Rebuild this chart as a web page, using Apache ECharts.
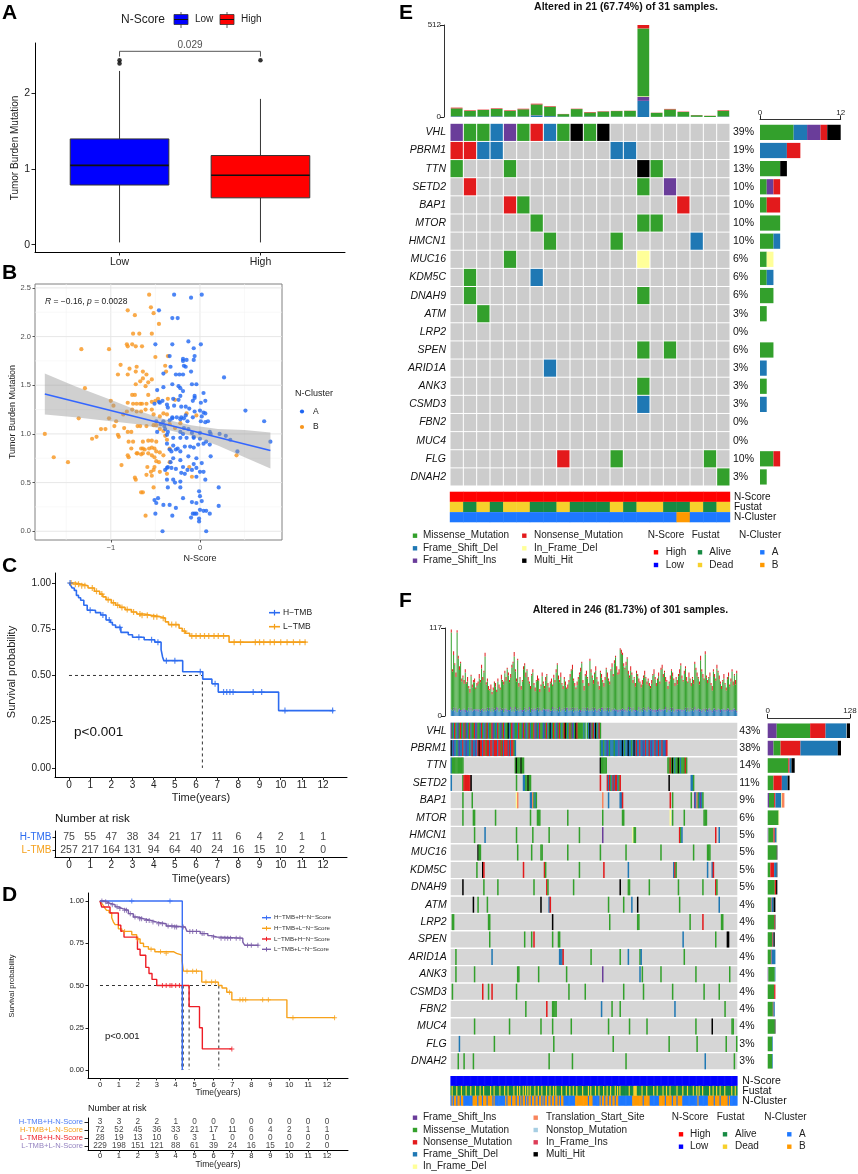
<!DOCTYPE html>
<html><head><meta charset="utf-8"><title>TMB figure</title>
<script src="https://cdn.jsdelivr.net/npm/echarts@6.0.0/dist/echarts.min.js"></script>
<style>html,body{margin:0;padding:0;background:#fff;}#chart{width:858px;height:1174px;}</style>
</head><body><div id="chart"></div>
<script>
// ================= DATA =================
// Panel A
const boxCategories = ['Low', 'High'];
const boxLow = [0.03, 0.79, 1.05, 1.40, 2.30];
const boxHigh = [0.03, 0.62, 0.92, 1.18, 1.93];
const boxOutliers = [[1, 2.44], [1, 2.40], [2, 2.44]];
const boxPLabel = '0.029';
const boxBracket = [[1, 2.49], [1, 2.56], [2, 2.56], [2, 2.49]];
const boxYTicks = [0, 1, 2];

// Panel B
const clusterB = [[-0.57,2.43],[-0.81,2.27],[-0.55,2.30],[-0.52,2.24],[-0.73,2.22],[-0.46,2.13],[-0.75,2.03],[-0.68,2.03],[-0.54,2.03],[-1.33,1.87],[-1.02,1.87],[-0.82,1.92],[-0.81,1.90],[-0.76,1.92],[-0.72,1.90],[-0.65,1.90],[-0.50,1.79],[-0.89,1.71],[-0.79,1.67],[-0.71,1.69],[-0.92,1.61],[-0.81,1.61],[-0.72,1.64],[-0.64,1.64],[-0.60,1.61],[-0.54,1.56],[-0.38,1.64],[-0.36,1.80],[-0.39,1.70],[-0.64,1.57],[-0.58,1.53],[-0.61,1.49],[-0.72,1.51],[-0.67,1.54],[-1.29,1.47],[-0.76,1.40],[-0.73,1.40],[-0.58,1.40],[-1.00,1.34],[-0.97,1.29],[-0.81,1.32],[-0.75,1.31],[-0.71,1.31],[-0.67,1.31],[-0.65,1.31],[-0.60,1.31],[-0.54,1.33],[-0.50,1.34],[-0.47,1.36],[-0.36,1.36],[-0.28,1.35],
[-1.36,1.16],[-1.02,1.16],[-0.86,1.20],[-0.82,1.23],[-0.76,1.25],[-0.71,1.23],[-0.66,1.23],[-0.61,1.25],[-0.54,1.25],[-0.52,1.20],[-0.45,1.18],[-0.41,1.21],[-0.37,1.20],[-0.94,1.13],[-0.96,1.08],[-0.85,1.06],[-1.06,1.05],[-1.11,1.05],[-1.16,0.97],[-1.21,0.95],[-1.74,1.00],[-0.92,0.99],[-0.91,0.97],[-0.81,1.02],[-0.77,1.02],[-0.70,1.08],[-0.67,1.08],[-0.60,1.08],[-0.52,1.09],[-0.49,1.09],[-0.45,1.05],[-0.41,1.03],[-0.34,1.10],[-0.28,1.06],[-0.22,1.11],
[-0.80,0.92],[-0.75,0.92],[-0.64,0.92],[-0.58,0.93],[-0.54,0.93],[-0.49,0.92],[-0.39,0.98],[-0.37,0.94],[-0.64,0.85],[-0.62,0.84],[-0.66,0.85],[-0.57,0.85],[-0.54,0.86],[-0.51,0.85],[-0.49,0.82],[-0.45,0.81],[-0.77,0.85],[-0.71,0.80],[-0.80,0.76],[-0.81,0.78],[-0.70,0.80],[-0.66,0.79],[-0.64,0.80],[-0.58,0.80],[-0.54,0.78],[-0.51,0.76],[-0.46,0.71],[-0.41,0.78],[-0.34,0.85],[-0.88,0.68],[-0.59,0.66],[-0.51,0.66],[-0.49,0.72],[-0.55,0.61],[-0.52,0.63],[-0.45,0.61],[-0.37,0.59],[-0.60,0.58],[-0.54,0.57],[-0.34,0.71],[-1.64,0.76],[-1.48,0.71],[-0.73,0.55],[-0.72,0.53],[-0.66,0.40],[-0.64,0.40],[-0.52,0.45],[-0.61,0.16],[-0.09,0.56],[-0.12,0.66],[0.41,0.78],[-0.15,1.21],[-0.04,1.19]];
const clusterA = [[-0.29,2.43],[-0.10,2.40],[0.02,2.43],[-0.46,2.27],[-0.31,2.19],[-0.25,2.19],[-0.50,1.92],[-0.31,1.92],[-0.13,1.95],[-0.07,1.88],[0.01,1.92],[-0.34,1.80],[-0.33,1.69],[-0.19,1.77],[-0.19,1.75],[-0.15,1.76],[-0.18,1.70],[-0.07,1.76],[-0.06,1.80],[-0.16,1.69],[-0.10,1.64],[-0.41,1.62],[-0.27,1.61],[-0.23,1.61],[-0.19,1.61],[-0.31,1.51],[-0.24,1.49],[-0.09,1.51],[-0.04,1.51],[-0.22,1.47],[-0.19,1.44],[-0.41,1.48],[-0.48,1.45],[-0.06,1.39],[-0.06,1.37],[0.04,1.42],[0.06,1.34],[0.01,1.32],[-0.08,1.34],[-0.22,1.39],[-0.24,1.35],[-0.30,1.36],[-0.42,1.34],[-0.46,1.33],[-0.45,1.32],[-0.51,1.31],[-0.37,1.30],[-0.36,1.27],[-0.29,1.29],[-0.21,1.28],[-0.16,1.28],[-0.12,1.26],[-0.06,1.23],[0,1.24],[0.04,1.22],[0.06,1.21],[0.02,1.18],[-0.16,1.19],[-0.21,1.17],[-0.26,1.17],[-0.31,1.16],[-0.34,1.14],[-0.31,1.17],[-0.22,1.15],[-0.18,1.16],[-0.14,1.13],[-0.08,1.17],[0.01,1.13],[0.06,1.12],[0.09,1.13],[-0.41,1.13],[-0.49,1.13],[-0.44,1.10],[-0.40,1.08],[-0.39,1.05],[-0.48,1.02],[-0.18,1.06],[-0.13,1.05],[-0.09,1.01],[-0.07,0.97],[0,1.01],[0.11,1.02],[0.12,1.00],[0.22,1.00],[0.29,0.98],[0.34,0.94],[-0.36,1.02],[-0.37,0.99],[-0.22,1.02],[-0.19,1.00],[-0.30,0.96],[-0.22,0.96],[-0.15,0.96],[-0.07,0.96],[0,0.95],[0.07,0.92],[0.11,0.89],[-0.37,0.90],[-0.30,0.88],[-0.25,0.85],[-0.34,0.84],[-0.32,0.82],[-0.27,0.84],[-0.22,0.82],[-0.17,0.87],[-0.11,0.87],[-0.07,0.86],[-0.02,0.89],[0.04,0.90],[0.12,0.77],[-0.22,0.73],[-0.30,0.75],[-0.33,0.71],[-0.36,0.66],[-0.37,0.65],[-0.32,0.65],[-0.27,0.64],[-0.19,0.66],[-0.14,0.63],[-0.09,0.63],[-0.04,0.65],[0,0.61],[0.04,0.61],[-0.13,0.77],[-0.04,0.75],[0.02,0.70],[-0.07,0.69],[-0.21,0.60],[-0.17,0.59],[-0.04,0.56],[0.06,0.53],[-0.30,0.53],[-0.28,0.50],[-0.22,0.51],[-0.39,0.63],[-0.37,0.53],[-0.36,0.45],[-0.22,0.45],[-0.01,0.41],[0,0.36],[0.21,0.45],[-0.51,0.32],[-0.49,0.29],[-0.47,0.34],[-0.34,0.27],[-0.19,0.34],[-0.09,0.30],[-0.04,0.29],[0.02,0.31],[-0.41,0.27],[0.21,0.26],[0.11,0.18],[-0.08,0.18],[-0.06,0.18],[-0.04,0.18],[0,0.22],[0.04,0.21],[0.07,0.21],[-0.10,0.14],[-0.01,0.13],[-0.01,0.10],[-0.50,0.18],[-0.31,0.16],[-0.27,0.24],[0.27,1.58],[0.51,1.24],[0.72,1.13],[0.79,0.92],[0.42,0.82],[-0.42,0.0],[0.07,0.0]];
const fitLine = [[-1.74, 1.41], [0.79, 0.83]];
const fitBand = [[-1.74,1.20,1.62],[-1.4,1.17,1.49],[-1.0,1.13,1.35],[-0.7,1.10,1.24],[-0.4,1.05,1.15],[-0.1,0.98,1.09],[0.2,0.88,1.05],[0.5,0.76,1.04],[0.79,0.645,1.015]];
const bXTicks = [-1, 0];
const bYTicks = [0, 0.5, 1, 1.5, 2, 2.5];
const bGridMajorX = [-1, 0], bGridMinorX = [-1.5, -0.5, 0.5];
const bGridMajorY = [0, 0.5, 1, 1.5, 2, 2.5], bGridMinorY = [0.25, 0.75, 1.25, 1.75, 2.25];

// Panel C
const kmTimeTicks = [0,1,2,3,4,5,6,7,8,9,10,11,12];
const survTicks = [0, 0.25, 0.5, 0.75, 1];
const kmC_H = [[0,1],[0.08,0.987],[0.15,0.973],[0.25,0.96],[0.35,0.933],[0.45,0.92],[0.55,0.907],[0.7,0.88],[0.86,0.853],[1.25,0.84],[1.5,0.827],[1.75,0.80],[1.95,0.787],[2.05,0.773],[2.2,0.76],[2.45,0.733],[2.8,0.72],[3.0,0.707],[3.55,0.693],[4.05,0.68],[4.35,0.64],[4.42,0.60],[4.48,0.58],[5.37,0.52],[6.32,0.48],[6.75,0.455],[7.05,0.41],[9.9,0.31],[12.5,0.31]];
const kmC_Hcens = [[0.05,1.0],[1.0,0.853],[1.6,0.827],[1.9,0.80],[2.4,0.76],[3.3,0.707],[3.9,0.693],[4.2,0.68],[4.6,0.58],[5.0,0.58],[6.2,0.52],[6.9,0.455],[7.3,0.41],[7.45,0.41],[7.6,0.41],[7.75,0.41],[8.7,0.41],[9.1,0.41],[10.2,0.31],[12.45,0.31]];
const kmC_L = [[0,1],[0.3,0.993],[0.6,0.985],[0.9,0.973],[1.2,0.955],[1.45,0.94],[1.6,0.925],[1.75,0.91],[2.0,0.893],[2.2,0.88],[2.4,0.868],[2.65,0.856],[2.95,0.843],[3.2,0.832],[3.55,0.825],[3.9,0.818],[4.3,0.81],[4.55,0.79],[4.7,0.775],[5.2,0.755],[5.35,0.74],[5.5,0.728],[5.7,0.714],[7.56,0.68],[11.2,0.68]];
const kmC_Lcens = [[0.1,1.0],[0.3,0.993],[0.45,0.993],[0.6,0.985],[0.75,0.985],[1.1,0.973],[1.3,0.955],[1.55,0.94],[1.85,0.91],[2.1,0.893],[2.3,0.88],[2.5,0.868],[2.75,0.856],[3.05,0.843],[3.35,0.832],[3.45,0.825],[3.7,0.825],[4.0,0.818],[4.15,0.818],[4.45,0.81],[4.85,0.775],[5.05,0.775],[5.45,0.74],[5.8,0.714],[6.0,0.714],[6.2,0.714],[6.4,0.714],[6.6,0.714],[6.85,0.714],[7.05,0.714],[7.3,0.714],[7.8,0.68],[8.1,0.68],[8.8,0.68],[9.0,0.68],[9.2,0.68],[9.5,0.68],[9.7,0.68],[10.0,0.68],[10.3,0.68],[10.6,0.68],[10.9,0.68],[11.15,0.68]];
const medianC = [6.3];
const riskGroupsC = ['H-TMB', 'L-TMB'];
const riskC_H = [75,55,47,38,34,21,17,11,6,4,2,1,1];
const riskC_L = [257,217,164,131,94,64,40,24,16,15,10,2,0];

// Panel D
const kmD_HH = [[0,1],[4.35,0]];
const kmD_HHcens = [[1.68,1],[3.7,1]];
const kmD_HL = [[0,1],[0.09,0.986],[0.18,0.972],[0.26,0.958],[0.35,0.944],[0.48,0.93],[0.62,0.90],[0.71,0.875],[0.8,0.86],[0.97,0.835],[1.15,0.82],[1.68,0.80],[1.94,0.775],[2.12,0.75],[2.3,0.73],[2.56,0.715],[2.9,0.70],[3.88,0.69],[4.05,0.68],[4.34,0.645],[4.41,0.585],[5.38,0.52],[6.26,0.50],[6.45,0.485],[6.7,0.46],[6.97,0.415],[9.88,0.31],[12.43,0.31]];
const kmD_HLcens = [[1.3,0.82],[2.0,0.775],[2.7,0.715],[3.2,0.70],[3.5,0.69],[4.6,0.585],[4.9,0.585],[5.1,0.585],[5.6,0.52],[5.9,0.52],[6.1,0.52],[6.85,0.46],[7.4,0.415],[7.55,0.415],[7.7,0.415],[8.6,0.415],[8.9,0.415],[10.2,0.31],[12.4,0.31]];
const kmD_LH = [[0,1],[0.09,0.964],[0.53,0.929],[0.97,0.857],[1.1,0.821],[1.27,0.786],[1.98,0.714],[2.12,0.679],[2.42,0.607],[2.59,0.571],[2.75,0.536],[3.0,0.5],[4.71,0.375],[5.26,0.25],[5.41,0.125],[6.97,0.125]];
const kmD_LHcens = [[3.3,0.5],[3.5,0.5],[3.7,0.5],[3.8,0.5],[4.0,0.5],[4.2,0.5],[6.97,0.125]];
const kmD_LL = [[0,1],[0.2,0.995],[0.35,0.985],[0.55,0.978],[0.8,0.965],[0.97,0.955],[1.2,0.945],[1.5,0.925],[1.76,0.905],[2.0,0.895],[2.3,0.885],[2.7,0.875],[3.0,0.865],[3.5,0.852],[3.9,0.846],[4.5,0.835],[4.6,0.82],[5.3,0.807],[5.7,0.795],[5.9,0.787],[6.17,0.78],[7.55,0.757],[7.65,0.738],[8.38,0.738]];
const kmD_LLcens = [[0.1,1],[0.3,0.995],[0.45,0.985],[0.65,0.978],[0.9,0.965],[1.05,0.955],[1.3,0.945],[1.4,0.945],[1.6,0.925],[1.85,0.905],[2.1,0.895],[2.2,0.895],[2.45,0.885],[2.6,0.885],[2.8,0.875],[3.1,0.865],[3.3,0.865],[3.6,0.852],[3.8,0.852],[3.95,0.846],[4.05,0.846],[4.4,0.846],[4.75,0.82],[4.9,0.82],[5.1,0.82],[5.4,0.807],[5.5,0.807],[6.0,0.787],[6.4,0.78],[6.6,0.78],[6.75,0.78],[6.9,0.78],[7.2,0.78],[7.4,0.78],[7.8,0.738],[8.0,0.738],[8.35,0.738]];
const medianD = [4.33, 4.40, 4.71, 6.28];
const riskGroupsD = ['H-TMB+H-N-Score', 'H-TMB+L-N-Score', 'L-TMB+H-N-Score', 'L-TMB+L-N-Score'];
const riskD_HH = [3,3,2,2,1,0,0,0,0,0,0,0,0];
const riskD_HL = [72,52,45,36,33,21,17,11,6,4,2,1,1];
const riskD_LH = [28,19,13,10,6,3,1,0,0,0,0,0,0];
const riskD_LL = [229,198,151,121,88,61,39,24,16,15,10,2,0];

// Panel E (oncoplot, 21 altered samples)
const eTitle = 'Altered in 21 (67.74%) of 31 samples.';
const eGenes = ['VHL','PBRM1','TTN','SETD2','BAP1','MTOR','HMCN1','MUC16','KDM5C','DNAH9','ATM','LRP2','SPEN','ARID1A','ANK3','CSMD3','FBN2','MUC4','FLG','DNAH2'];
const ePct = ['39%','19%','13%','10%','10%','10%','10%','6%','6%','6%','3%','0%','6%','3%','3%','3%','0%','0%','10%','3%'];
const eMatrix = [
 'IMMDIMNDMHMH.........',
 'NNDD........DD.......',
 'M...M.........HM.....',
 '.N............M.I....',
 '....NM...........N...',
 '......M.......MM.....',
 '.......M....M.....D..',
 '....M.........d......',
 '.M....D..............',
 '.M............M......',
 '..M..................',
 '.....................',
 '..............M.M....',
 '.......D.............',
 '..............M......',
 '..............D......',
 '.....................',
 '.....................',
 '........N...M......M.',
 '....................M'];
const eTmbFSD   = [3,2,3,3,1,2,8,4,2,2,2,1,2,1,90,1,2,2,1,0,2];
const eTmbFSI   = [1,1,0,1,1,1,2,1,0,0,1,0,0,1,22,0,1,0,0,0,1];
const eTmbIFD   = [0,0,0,0,0,0,0,0,0,0,0,0,0,0,3,0,0,0,0,0,0];
const eTmbMis   = [44,31,36,41,32,40,60,52,14,42,22,29,31,32,378,22,39,26,9,6,31];
const eTmbNon   = [4,3,2,3,3,3,4,3,1,2,3,2,1,1,19,1,3,2,1,1,3];
const eTopMax = 512, eRightMax = 12;
const eNScore = 'HHHHHHHHHHHHHHHHHHHHH';
const eFustat = 'dadaddaadaaadaddaadad';
const eCluster = 'AAAAAAAAAAAAAAAAABAAA';

// Panel F (oncoplot, 246 altered samples)
const fTitle = 'Altered in 246 (81.73%) of 301 samples.';
const fGenes = eGenes;
const fPct = ['43%','38%','14%','11%','9%','6%','5%','5%','5%','5%','4%','4%','4%','4%','4%','4%','4%','4%','3%','3%'];
const fSegVHL = [[0, ['IMDNMDIMNM','DNMIDMNDMM','NDIMMDNMDI','MNDMMNIDMD','NMDIMNDMMH','DMNIDMMDNM','MDNMIDMNDM','MNDIMDNMMD','IMNDMHDMNM','DIMNMDMNHM','DMNMIDMHNM','MMMMDMSMDH','IMNDHMDNM'].join('')]];
const fSegPBRM1 = [[0, ['HDIDDMDIDD','NDDIDDMDND','DIDNHNNDNN','MNNDNNDNNN','DNNMNDNNND','NDNNMD'].join('')], [128, ['MDDMDDIDMD','DDMDDDIDDH','DMDDHDDMDH','DNDDNDDIDN','DDNDIDDNDD','NDDNDDIN'].join('')]];
const fSegOther = [
 [[0,'DMMMMMMMMMM'],[55,'MHMMMHMM'],[128,'HMMMMM'],[186,'MMNMHMDMMHMDMMMNM']],
 [[0,'D'],[10,'MNNNNNNH'],[56,'M'],[62,'DDMMHMM'],[128,'N'],[134,'NDNMDNDNNDMN'],[187,'H'],[206,'DDM']],
 [[10,'M'],[18,'M'],[56,'dT'],[68,'DDTMDM'],[130,'T'],[135,'D'],[145,'DDN'],[188,'N'],[190,'M'],[206,'M'],[209,'IDTMDIDM']],
 [[10,'M'],[19,'MM'],[38,'M'],[68,'M'],[74,'MMM'],[100,'M'],[130,'M'],[147,'MM'],[188,'d'],[190,'M'],[200,'M'],[217,'MMM']],
 [[20,'M'],[29,'D'],[56,'M'],[70,'M'],[84,'M'],[110,'M'],[130,'I'],[156,'dMM'],[196,'NMD'],[227,'N'],[230,'D']],
 [[23,'HMM'],[57,'M'],[69,'M'],[77,'MM'],[100,'M'],[128,'M'],[150,'M'],[180,'M'],[208,'M'],[220,'MMM']],
 [[22,'M'],[27,'HN'],[62,'N'],[80,'NM'],[110,'M'],[131,'N'],[152,'D'],[191,'DNM'],[220,'D'],[224,'DN']],
 [[10,'H'],[28,'M'],[40,'M'],[71,'M'],[82,'NM'],[105,'M'],[145,'H'],[152,'MM'],[170,'M'],[195,'M'],[216,'M'],[227,'NM']],
 [[19,'H'],[23,'M'],[31,'M'],[77,'H'],[84,'DN'],[135,'M'],[148,'M'],[155,'D'],[160,'H'],[196,'M'],[230,'D']],
 [[1,'MM'],[32,'MM'],[87,'H'],[136,'M'],[160,'MM'],[205,'M'],[216,'N'],[232,'MM']],
 [[33,'M'],[63,'M'],[69,'M'],[71,'N'],[87,'M'],[92,'MM'],[199,'D'],[227,'M'],[237,'HH']],
 [[4,'M'],[35,'D'],[93,'DDDN'],[120,'M'],[145,'M'],[152,'D'],[162,'MD'],[200,'M']],
 [[4,'M'],[20,'M'],[57,'MM'],[75,'M'],[99,'M'],[130,'I'],[162,'D'],[164,'M'],[180,'M'],[210,'M'],[239,'M']],
 [[1,'M'],[27,'N'],[32,'M'],[35,'N'],[56,'M'],[101,'M'],[115,'M'],[148,'M'],[165,'M'],[190,'M'],[217,'M'],[230,'M']],
 [[64,'M'],[82,'N'],[87,'MMMM'],[129,'D'],[138,'M'],[145,'M'],[192,'D'],[235,'M']],
 [[20,'M'],[50,'M'],[77,'M'],[87,'M'],[103,'M'],[135,'M'],[153,'M'],[168,'M'],[210,'M'],[224,'H'],[241,'MM']],
 [[7,'D'],[37,'M'],[88,'M'],[139,'M'],[187,'M'],[211,'M'],[236,'M'],[245,'M']],
 [[6,'M'],[11,'M'],[19,'M'],[84,'M'],[104,'M'],[150,'M'],[218,'D'],[243,'M']]
];
const fTmbTotal = [115,62,86,70,58,114,80,66,72,50,54,48,62,45,52,40,36,55,42,48,50,38,44,46,56,48,68,52,60,84,45,50,40,36,42,32,38,46,44,35,50,42,38,55,48,46,60,52,64,58,48,56,68,72,85,62,50,76,44,52,40,48,66,70,58,62,52,46,40,56,62,44,38,48,54,50,36,42,58,46,40,52,56,44,38,46,50,42,55,48,62,70,54,48,58,44,40,52,46,38,42,48,56,62,68,50,44,38,46,52,58,64,72,48,40,56,60,52,44,76,62,54,48,58,66,52,46,40,60,56,48,44,52,64,58,50,46,62,70,56,74,80,66,58,62,90,88,84,70,64,72,78,60,54,66,58,48,52,44,60,56,50,46,42,48,54,60,52,46,50,44,40,48,56,62,52,44,50,58,46,64,68,56,60,52,48,40,46,54,62,58,50,44,52,48,56,62,70,54,48,60,66,52,46,58,50,44,52,48,72,64,58,52,46,80,62,56,50,86,54,48,52,58,44,40,62,56,50,68,60,54,46,40,48,56,44,38,52,58,42,50,62,46,56,48,60];
const fTmbFSD = ['8796857968','7958697867','9786958768','6978596879','8697857968','7968597869','8579687958','6978958769','8796857969','7859687968','9687958796','8579697868','7968958769','8697859687','9785968796','8697958768','7958697869','8796859687','6978958796','8579687968','7968597869','8796958768','6978597869','8597968796','869785'].join('');
const fTmbNon = ['4352634524','3542635243','5243635425','3452634253','4536243524','3542634253','5243625342','4352634253','3524635243','4253624352','5342634253','3524635243','4352634525','3542634253','4253625342','5243634253','3524635243','4352634253','3542624352','5243635342','4352634253','3524635243','4253634352','5342624353','435263'].join('');
const fTmbIns = ['1021302120','2130120312','0213021302','1203120213','3021203120','1302130212','0312021302','2130213021','1203120312','0213021203','2130213021','1302120312','0213021302','3120312021','1203021302','2130213120','0312021203','1302130213','2021302120','3120312021','1203120213','0213021302','2130213021','1302120312','021302'].join('');
const fTopMax = 117, fRightMax = 128;
const fNScore = ['LLLLLLLLLL','LLLLLLLLLL','LLLLLLLLLL','LLLLLLLLLL','LLLLLLLLLL','LLLLLLLLLL','LLLLLLLLLL','LLLLLLLLLL','LLLLLLLLLL','LLLLLLLLLL','LLLLLLLLLL','LLLLLLLLLL','LLLLLLLLLL','LLLLLLLLLL','LLLLLLLLLL','LLLLLLLLLL','LLLLLLLLLL','LLLLLLLLLL','LLLLLLLLLL','LLLLLLLLLL','LLLLLLLLLL','LLLLLLLLLL','LLLLLLLLLL','LLLLLLLLLL','LLLLLL'].join('');
const fFustat = ['adaaadaaad','aaadaaadaa','adaaadaada','aaaadaadaa','aadaaadaad','aaaadaadad','aadadadada','aadaadaada','aadaadaada','daaaadaaad','aadaadaada','aaadaaaada','daaadaadaa','adaadaadaa','adadadaaaa','aaadaaaddd','aaaadaaada','aaaadaadaa','aadaadaada','aaaadaaaad','aaadaaaada','adadaadaaa','aadaadaada','adaaadaaaa','adaada'].join('');
const fCluster = ['ABABBABBAB','BAAAAAAAAB','BBBABBBABB','BABBBBABAA','AAAAAAABAB','BBABBBABBA','BABBABABBA','BBABBABBAB','ABBABBABBA','BBABABBAAA','AAAAAAABBB','BBBBBBBBAB','BBAAAAAABA','BBABBABBAB','BABBAAAAAA','AAAAAABBBB','BBBBBABBBB','BAAAAAAAAB','BBBBABBBBB','ABBBABBBBA','AAAAAAAAAA','AABAAAAAAA','ABBBBBABBB','BABBBBBBAB','AAAAAA'].join('');

// ================= STYLE =================
const FONT = '"Liberation Sans", Arial, Helvetica, sans-serif';
const mutCodes = ['M','N','D','I','d','T','S','i','H'];
const mutColors = ['#33A02C','#E31A1C','#1F78B4','#6A3D9A','#FFFF99','#F8845C','#A6CEE3','#DD3D57','#000000'];
const annKeys = ['H','L','a','d','A','B'];
const annColors = ['#FF0000','#0000FF','#178A43','#F7D02C','#1E78FF','#FF9900'];
const PLUS = 'path://M4,0H6V4H10V6H6V10H4V6H0V4H4Z';
const colC = {H:'#2D6CF0', L:'#F5A01A'};
const colD = {HH:'#3B6FF5', HL:'#F7A21B', LH:'#EE1C25', LL:'#7A5EA8'};
const colDlab = ['#4A7BF5','#F7A21B','#EE1C25','#9583C0'];

// ================= HELPERS =================
function T(x, y, text, fs, o) {
  o = o || {};
  return {type:'text', x:x, y:y, rotation:o.rot||0, silent:true, z:10,
    style:{text:text, fill:o.color||'#111', fontSize:fs, fontFamily:FONT, fontWeight:o.bold?'bold':'normal',
      fontStyle:o.italic?'italic':'normal', align:o.align||'left', verticalAlign:o.va||'middle',
      textAlign:o.align||'left', textVerticalAlign:o.va||'middle'}};
}
function R(x, y, w, h, fill, stroke) {
  return {type:'rect', silent:true, z:10, shape:{x:x, y:y, width:w, height:h}, style:{fill:fill, stroke:stroke||null, lineWidth:stroke?0.8:0}};
}
function Ln(x1, y1, x2, y2, color, w, dash) {
  return {type:'line', silent:true, z:10, shape:{x1:x1, y1:y1, x2:x2, y2:y2}, style:{stroke:color, lineWidth:w||1, lineDash:dash||null}};
}
function vAxis(grid, min, max, ticks, o) {
  o = o || {};
  const lab = {show:o.labels!==false, customValues:ticks, fontSize:o.fs||10, color:o.lc||'#222', fontFamily:FONT, margin:o.margin!=null?o.margin:3};
  if (o.fmt) lab.formatter = o.fmt;
  return {type:'value', gridIndex:grid, min:min, max:max, position:o.position, offset:o.offset||0,
    axisLine:{show:o.line!==false, onZero:false, lineStyle:{color:o.lineColor||'#000', width:1}},
    axisTick:{show:o.tick!==false, customValues:ticks, length:o.tl||3, inside:false, lineStyle:{color:o.tickColor||'#222', width:1}},
    axisLabel:lab, splitLine:{show:false}, minorTick:{show:false}, splitArea:{show:false}};
}
function cAxis(grid, data, o) {
  o = o || {};
  return {type:'category', gridIndex:grid, data:data, inverse:!!o.inverse, position:o.position, boundaryGap:true,
    axisLine:{show:!!o.line, onZero:false, lineStyle:{color:'#000'}},
    axisTick:{show:!!o.tick, length:o.tl||3, alignWithLabel:true, lineStyle:{color:'#222'}},
    axisLabel:{show:!!o.labels, interval:0, fontSize:o.fs||10, fontFamily:FONT, fontStyle:o.italic?'italic':'normal',
      color:o.lc||'#111', margin:o.margin!=null?o.margin:3, align:o.align},
    splitLine:{show:false}};
}
const fmt2 = v => v.toFixed(2);
const fmtT = v => String(v);

function kmLine(data, color, xi, yi, w) {
  return {type:'line', xAxisIndex:xi, yAxisIndex:yi, data:data, step:'end', showSymbol:false, symbol:'none',
    lineStyle:{color:color, width:w}, z:3, silent:true, clip:false};
}
function kmCens(data, color, xi, yi, size) {
  return {type:'scatter', xAxisIndex:xi, yAxisIndex:yi, data:data, symbol:PLUS, symbolSize:size, itemStyle:{color:color}, z:4, silent:true};
}
function dashLine(data, xi, yi) {
  return {type:'line', xAxisIndex:xi, yAxisIndex:yi, data:data, showSymbol:false, symbol:'none',
    lineStyle:{color:'#333', width:1, type:[3,3]}, z:2, silent:true};
}
function riskSeries(groups, xi, yi, fs) {
  const data = [];
  groups.forEach((arr, g) => arr.forEach((n, i) => data.push([kmTimeTicks[i], g, n])));
  return {type:'scatter', xAxisIndex:xi, yAxisIndex:yi, data:data, symbolSize:1, itemStyle:{color:'rgba(0,0,0,0)'},
    label:{show:true, position:'inside', formatter:p => String(p.value[2]), fontSize:fs, color:'#111', fontFamily:FONT}, silent:true};
}
function cellRender(bg, gx, gy, extra) {
  return function (params, api) {
    const c = api.coord([api.value(0), api.value(1)]);
    const s = api.size([1, 1]);
    const t = api.value(2);
    const w = s[0] - gx + extra, h = s[1] - gy;
    return {type:'rect', shape:{x:c[0] - w / 2, y:c[1] - h / 2, width:w, height:h}, style:{fill: t < 0 ? bg : mutColors[t]}};
  };
}
function annRender(extra) {
  return function (params, api) {
    const c = api.coord([api.value(0), api.value(1)]);
    const s = api.size([1, 1]);
    const w = s[0] + extra, h = s[1];
    return {type:'rect', shape:{x:c[0] - w / 2, y:c[1] - h / 2, width:w, height:h}, style:{fill: annColors[api.value(2)]}};
  };
}

// ================= DERIVED TABLES =================
const eCols = eMatrix[0].length;
const eSampleIdx = Array.from({length:eCols}, (_, i) => i);
const eCellData = [];
eMatrix.forEach((row, r) => { for (let c = 0; c < row.length; c++) eCellData.push([c, r, row[c] === '.' ? -1 : mutCodes.indexOf(row[c])]); });
const eRightOrder = ['M','D','I','N','d','H'];
const eRightSeries = eRightOrder.map(code => ({type:'bar', xAxisIndex:8, yAxisIndex:9, stack:'er', barWidth:'84%', silent:true,
  itemStyle:{color:mutColors[mutCodes.indexOf(code)]},
  data:eMatrix.map(row => row.split('').filter(ch => ch === code).length)}));
const eAnnData = [];
[eNScore, eFustat, eCluster].forEach((str, r) => { for (let c = 0; c < str.length; c++) eAnnData.push([c, r, annKeys.indexOf(str[c])]); });
const eTopSeries = [
  [eTmbFSD,'D'],[eTmbFSI,'I'],[eTmbIFD,'d'],[eTmbMis,'M'],[eTmbNon,'N']
].map(([arr, code]) => ({type:'bar', xAxisIndex:6, yAxisIndex:6, stack:'et', barWidth:'88%', silent:true,
  itemStyle:{color:mutColors[mutCodes.indexOf(code)]}, data:arr}));

const fCols = fTmbTotal.length;
const fSampleIdx = Array.from({length:fCols}, (_, i) => i);
const fSegments = [fSegVHL, fSegPBRM1].concat(fSegOther);
const fCellData = [];
fSegments.forEach((segs, r) => segs.forEach(([start, codes]) => {
  for (let k = 0; k < codes.length; k++) if (start + k < fCols) fCellData.push([start + k, r, mutCodes.indexOf(codes[k])]);
}));
const fRowBg = fGenes.map((g, r) => [0, r]);
const fRightOrder = ['I','M','N','D','d','T','S','i','H'];
const fRightSeries = fRightOrder.map(code => {
  const t = mutCodes.indexOf(code);
  const counts = fGenes.map((g, r) => fCellData.filter(d => d[1] === r && d[2] === t).length);
  return {type:'bar', xAxisIndex:12, yAxisIndex:14, stack:'fr', barWidth:'84%', silent:true, itemStyle:{color:mutColors[t]}, data:counts};
});
const fFSDv = fSampleIdx.map(i => +fTmbFSD[i] || 0);
const fNonv = fSampleIdx.map(i => +fTmbNon[i] || 0);
const fInsv = fSampleIdx.map(i => +fTmbIns[i] || 0);
const fMisv = fSampleIdx.map(i => fTmbTotal[i] - fFSDv[i] - fNonv[i] - fInsv[i]);
const fTopSeries = [[fFSDv,'D'],[fInsv,'I'],[fMisv,'M'],[fNonv,'N']].map(([arr, code]) => ({type:'bar', xAxisIndex:10, yAxisIndex:11, stack:'ft', barWidth:'80%', silent:true,
  itemStyle:{color:mutColors[mutCodes.indexOf(code)]}, data:arr}));
const fAnnData = [];
[fNScore, fFustat, fCluster].forEach((str, r) => { for (let c = 0; c < fCols; c++) fAnnData.push([c, r, annKeys.indexOf(str[c] || str[str.length - 1])]); });

const bGridData = [];
bGridMinorX.forEach(v => bGridData.push([v, 0, 1])); bGridMajorX.forEach(v => bGridData.push([v, 0, 0]));
bGridMinorY.forEach(v => bGridData.push([v, 1, 1])); bGridMajorY.forEach(v => bGridData.push([v, 1, 0]));

// ================= OPTION =================
const G = (l, t, w, h) => ({left:l, top:t, width:w, height:h, outerBoundsMode:'none', containLabel:false});
const grids = [
  G(35, 43, 310, 209),        // 0 A
  Object.assign(G(35, 284, 247, 256), {show:true, borderColor:'#808080', borderWidth:1, backgroundColor:'#fff'}), // 1 B
  G(55, 573, 292, 204),       // 2 C
  G(55, 831, 292, 26),        // 3 C risk
  G(88, 893, 260, 185),       // 4 D
  G(88, 1118, 260, 32),       // 5 D risk
  G(450, 25, 280, 92),        // 6 E top
  G(450, 123.3, 280, 362.7),  // 7 E matrix
  G(760, 123.3, 80.7, 362.7), // 8 E right
  G(450, 491.7, 280, 30.6),   // 9 E annotation
  G(450.7, 628, 286.6, 88),   // 10 F top
  G(450.7, 722, 286.6, 348),  // 11 F matrix
  G(767.7, 722, 82.3, 348),   // 12 F right
  G(450.7, 1076, 286.6, 29.7) // 13 F annotation
];

const xAxes = [
  vAxis(0, 0.4, 2.6, [1, 2], {fs:10.5, margin:5, tl:3.5, fmt:v => boxCategories[Math.round(v) - 1]}),
  vAxis(1, -1.85, 0.92, bXTicks, {fs:7.5, lc:'#4D4D4D', line:false, tl:2.5, tickColor:'#555', margin:4, fmt:v => v < 0 ? '\u2212' + Math.abs(v) : String(v)}),
  vAxis(2, -0.661, 13.13, kmTimeTicks, {fs:10, margin:3, fmt:fmtT}),
  vAxis(3, -0.661, 13.13, kmTimeTicks, {fs:10, margin:3, fmt:fmtT}),
  vAxis(4, -0.634, 13.11, kmTimeTicks, {fs:7.5, margin:3, tl:2.5, fmt:fmtT}),
  vAxis(5, -0.634, 13.11, kmTimeTicks, {fs:7.5, margin:2, tl:2.5, fmt:fmtT}),
  cAxis(6, eSampleIdx),
  cAxis(7, eSampleIdx),
  vAxis(8, 0, eRightMax, [0, eRightMax], {position:'top', offset:4, fs:8, tl:4, margin:3, lineColor:'#333', fmt:fmtT}),
  cAxis(9, eSampleIdx),
  cAxis(10, fSampleIdx),
  cAxis(11, fSampleIdx),
  vAxis(12, 0, fRightMax, [0, fRightMax], {position:'top', offset:4, fs:8, tl:4, margin:3, lineColor:'#333', fmt:fmtT}),
  cAxis(13, fSampleIdx)
];
const yAxes = [
  vAxis(0, -0.097, 2.67, boxYTicks, {fs:10.5, margin:5, tl:3.5, fmt:fmtT}),
  vAxis(1, -0.09, 2.54, bYTicks, {fs:7.5, lc:'#4D4D4D', line:false, tl:2.5, tickColor:'#555', margin:4, fmt:v => v.toFixed(1)}),
  vAxis(2, -0.049, 1.054, survTicks, {fs:10, margin:4, fmt:fmt2}),
  cAxis(3, riskGroupsC, {inverse:true, line:true, tick:true, tl:2.5, labels:true, fs:10, margin:3.5, lc:(v, i) => [colC.H, colC.L][i]}),
  vAxis(4, -0.047, 1.047, survTicks, {fs:7.5, margin:4, tl:2.5, fmt:fmt2}),
  cAxis(5, riskGroupsD, {inverse:true, line:true, tick:true, tl:3.5, labels:true, fs:7.6, margin:5, lc:(v, i) => colDlab[i]}),
  vAxis(6, 0, eTopMax, [0, eTopMax], {offset:6, fs:8, tl:4, margin:3, lineColor:'#333', fmt:fmtT}),
  cAxis(7, eGenes, {inverse:true, labels:true, italic:true, fs:10.5, margin:4}),
  cAxis(7, ePct, {inverse:true, labels:true, fs:10.5, margin:3, position:'right'}),
  cAxis(8, eGenes, {inverse:true}),
  cAxis(9, ['N-Score','Fustat','N-Cluster'], {inverse:true, labels:true, fs:10, margin:4, position:'right'}),
  vAxis(10, 0, fTopMax, [0, fTopMax], {offset:5.7, fs:8, tl:4, margin:3, lineColor:'#333', fmt:fmtT}),
  cAxis(11, fGenes, {inverse:true, labels:true, italic:true, fs:10.5, margin:4}),
  cAxis(11, fPct, {inverse:true, labels:true, fs:10.5, margin:2, position:'right'}),
  cAxis(12, fGenes, {inverse:true}),
  cAxis(13, ['N-Score','Fustat','N-Cluster'], {inverse:true, labels:true, fs:10.5, margin:5, position:'right'})
];

const series = [
  // ---- A ----
  {type:'custom', xAxisIndex:0, yAxisIndex:0, clip:false, silent:true, z:2,
   data:[[1].concat(boxLow), [2].concat(boxHigh)],
   renderItem:function (params, api) {
     const x = api.value(0);
     const p = [1, 2, 3, 4, 5].map(k => api.coord([x, api.value(k)]));
     const hw = Math.abs(api.size([0.35, 0])[0]);
     const fill = ['#0000FF', '#FF0000'][params.dataIndex];
     return {type:'group', children:[
       {type:'line', shape:{x1:p[0][0], y1:p[0][1], x2:p[1][0], y2:p[1][1]}, style:{stroke:'#333', lineWidth:1}},
       {type:'line', shape:{x1:p[3][0], y1:p[3][1], x2:p[4][0], y2:p[4][1]}, style:{stroke:'#333', lineWidth:1}},
       {type:'rect', shape:{x:p[1][0] - hw, y:p[3][1], width:2 * hw, height:p[1][1] - p[3][1]}, style:{fill:fill, stroke:'#333', lineWidth:1}},
       {type:'line', shape:{x1:p[2][0] - hw, y1:p[2][1], x2:p[2][0] + hw, y2:p[2][1]}, style:{stroke:'#111', lineWidth:1.6}}
     ]};
   }},
  {type:'scatter', xAxisIndex:0, yAxisIndex:0, data:boxOutliers, symbolSize:4.5, itemStyle:{color:'#000'}, silent:true},
  {type:'line', xAxisIndex:0, yAxisIndex:0, data:boxBracket, showSymbol:false, symbol:'none', lineStyle:{color:'#555', width:1}, silent:true},
  {type:'scatter', xAxisIndex:0, yAxisIndex:0, data:[[1.5, boxBracket[1][1]]], symbolSize:1, itemStyle:{color:'rgba(0,0,0,0)'}, silent:true,
   label:{show:true, position:'top', distance:1, formatter:boxPLabel, fontSize:10, color:'#222', fontFamily:FONT}},
  // ---- B ----
  {type:'custom', xAxisIndex:1, yAxisIndex:1, data:bGridData, clip:false, silent:true, z:0,
   renderItem:function (params, api) {
     const v = api.value(0), o = api.value(1), minor = api.value(2);
     const cs = params.coordSys;
     let shape;
     if (o === 0) { const x = api.coord([v, 1])[0]; shape = {x1:x, y1:cs.y, x2:x, y2:cs.y + cs.height}; }
     else { const y = api.coord([0, v])[1]; shape = {x1:cs.x, y1:y, x2:cs.x + cs.width, y2:y}; }
     return {type:'line', shape:shape, style:{stroke:minor ? '#F3F3F3' : '#E4E4E4', lineWidth:minor ? 0.6 : 0.9}};
   }},
  {type:'scatter', xAxisIndex:1, yAxisIndex:1, data:clusterB, symbolSize:4.2, itemStyle:{color:'#F7951D'}, silent:true, z:2},
  {type:'scatter', xAxisIndex:1, yAxisIndex:1, data:clusterA, symbolSize:4.2, itemStyle:{color:'#1F66F2'}, silent:true, z:2},
  {type:'custom', xAxisIndex:1, yAxisIndex:1, data:[[0, 1]], clip:false, silent:true, z:3,
   renderItem:function (params, api) {
     const up = fitBand.map(b => api.coord([b[0], b[2]]));
     const lo = fitBand.map(b => api.coord([b[0], b[1]])).reverse();
     return {type:'polygon', shape:{points:up.concat(lo)}, style:{fill:'rgba(150,150,150,0.45)'}};
   }},
  {type:'line', xAxisIndex:1, yAxisIndex:1, data:fitLine, showSymbol:false, symbol:'none', lineStyle:{color:'#3366FF', width:1.6}, z:4, silent:true},
  // ---- C ----
  dashLine([[0, 0.5], [medianC[0], 0.5]], 2, 2),
  dashLine([[medianC[0], 0.5], [medianC[0], 0]], 2, 2),
  kmLine(kmC_L, colC.L, 2, 2, 1.6),
  kmLine(kmC_H, colC.H, 2, 2, 1.6),
  kmCens(kmC_Lcens, colC.L, 2, 2, 6),
  kmCens(kmC_Hcens, colC.H, 2, 2, 6),
  riskSeries([riskC_H, riskC_L], 3, 3, 10.5),
  // ---- D ----
  dashLine([[0, 0.5], [medianD[3], 0.5]], 4, 4),
  dashLine([[medianD[0], 0.5], [medianD[0], 0]], 4, 4),
  dashLine([[medianD[1], 0.5], [medianD[1], 0]], 4, 4),
  dashLine([[medianD[2], 0.5], [medianD[2], 0]], 4, 4),
  dashLine([[medianD[3], 0.5], [medianD[3], 0]], 4, 4),
  kmLine(kmD_LL, colD.LL, 4, 4, 1.4),
  kmLine(kmD_HL, colD.HL, 4, 4, 1.4),
  kmLine(kmD_LH, colD.LH, 4, 4, 1.4),
  kmLine(kmD_HH, colD.HH, 4, 4, 1.4),
  kmCens(kmD_LLcens, colD.LL, 4, 4, 5),
  kmCens(kmD_HLcens, colD.HL, 4, 4, 5),
  kmCens(kmD_LHcens, colD.LH, 4, 4, 5),
  kmCens(kmD_HHcens, colD.HH, 4, 4, 5),
  riskSeries([riskD_HH, riskD_HL, riskD_LH, riskD_LL], 5, 5, 8.2),
  // ---- E ----
  ...eTopSeries,
  {type:'custom', xAxisIndex:7, yAxisIndex:7, data:eCellData, renderItem:cellRender('#CCCCCC', 1, 1, 0), silent:true},
  ...eRightSeries,
  {type:'custom', xAxisIndex:9, yAxisIndex:10, data:eAnnData, renderItem:annRender(0.4), silent:true},
  // ---- F ----
  ...fTopSeries,
  {type:'custom', xAxisIndex:11, yAxisIndex:12, data:fRowBg, silent:true, z:1,
   renderItem:function (params, api) {
     const cs = params.coordSys;
     const y = api.coord([0, api.value(1)])[1];
     const h = api.size([1, 1])[1] - 1.4;
     return {type:'rect', shape:{x:cs.x, y:y - h / 2, width:cs.width, height:h}, style:{fill:'#D6D6D6'}};
   }},
  {type:'custom', xAxisIndex:11, yAxisIndex:12, data:fCellData, renderItem:cellRender('#D6D6D6', 0, 1.4, 0.35), silent:true, z:2},
  ...fRightSeries,
  {type:'custom', xAxisIndex:13, yAxisIndex:15, data:fAnnData, renderItem:annRender(0.6), silent:true}
];

// ---------- text / legends ----------
const g = [];
[['A', 2, 13], ['B', 2, 273], ['C', 2, 566], ['D', 2, 895], ['E', 399, 13], ['F', 399, 601]].forEach(a => g.push(T(a[1], a[2], a[0], 21, {bold:true, color:'#000'})));
// A legend
g.push(T(121, 19.5, 'N-Score', 12, {color:'#222'}));
g.push(Ln(181, 12, 181, 28, '#333', 0.8)); g.push(R(174, 14.5, 14, 10, '#0000FF', '#333')); g.push(Ln(174, 19.5, 188, 19.5, '#111', 1));
g.push(T(195, 19.5, 'Low', 10, {color:'#222'}));
g.push(Ln(227, 12, 227, 28, '#333', 0.8)); g.push(R(220, 14.5, 14, 10, '#FF0000', '#333')); g.push(Ln(220, 19.5, 234, 19.5, '#111', 1));
g.push(T(241, 19.5, 'High', 10, {color:'#222'}));
g.push(T(15, 148, 'Tumor Burden Mutation', 10, {rot:Math.PI / 2, align:'center', color:'#222'}));
// B texts
g.push({type:'text', x:45, y:302, silent:true, z:10, style:{text:'{i|R} = \u22120.16, {i|p} = 0.0028', fontSize:8.5, fontFamily:FONT, fill:'#222', verticalAlign:'middle', textVerticalAlign:'middle',
  rich:{i:{fontStyle:'italic', fontSize:8.5, fontFamily:FONT, fill:'#222'}}}});
g.push(T(13, 412, 'Tumor Burden Mutation', 9, {rot:Math.PI / 2, align:'center', color:'#222'}));
g.push(T(200, 558.5, 'N-Score', 9, {align:'center', color:'#222'}));
g.push(T(295, 394, 'N-Cluster', 9, {color:'#222'}));
g.push({type:'circle', silent:true, z:10, shape:{cx:302, cy:411.5, r:2.1}, style:{fill:'#1F66F2'}});
g.push({type:'circle', silent:true, z:10, shape:{cx:302, cy:427, r:2.1}, style:{fill:'#F7951D'}});
g.push(T(313, 411.5, 'A', 8.5, {color:'#222'}));
g.push(T(313, 427, 'B', 8.5, {color:'#222'}));
// C texts
g.push(T(12, 672, 'Survival probability', 11, {rot:Math.PI / 2, align:'center', color:'#222'}));
g.push(T(201, 798, 'Time(years)', 11, {align:'center', color:'#222'}));
g.push(T(74, 732, 'p<0.001', 13.5, {color:'#111'}));
[[612.7, colC.H, 'H\u2212TMB'], [626.7, colC.L, 'L\u2212TMB']].forEach(r => {
  g.push(Ln(269, r[0], 280, r[0], r[1], 1.6)); g.push(Ln(274.5, r[0] - 2.8, 274.5, r[0] + 2.8, r[1], 1.2));
  g.push(T(283, r[0], r[2], 8.5, {color:'#222'}));
});
g.push(T(55, 819, 'Number at risk', 11.5, {color:'#111'}));
g.push(T(201, 878.5, 'Time(years)', 11, {align:'center', color:'#222'}));
// D texts
g.push(T(12, 986, 'Survival probability', 7.5, {rot:Math.PI / 2, align:'center', color:'#222'}));
g.push(T(218, 1093, 'Time(years)', 8.5, {align:'center', color:'#222'}));
g.push(T(105, 1036.7, 'p<0.001', 9.5, {color:'#111'}));
[[917.7, colD.HH, 'H\u2212TMB+H\u2212N\u2212Score'], [928.3, colD.HL, 'H\u2212TMB+L\u2212N\u2212Score'], [939, colD.LH, 'L\u2212TMB+H\u2212N\u2212Score'], [949.3, colD.LL, 'L\u2212TMB+L\u2212N\u2212Score']].forEach(r => {
  g.push(Ln(262, r[0], 271, r[0], r[1], 1.4)); g.push(Ln(266.5, r[0] - 2.2, 266.5, r[0] + 2.2, r[1], 1));
  g.push(T(274, r[0], r[2], 6.2, {color:'#333'}));
});
g.push(T(88, 1108.5, 'Number at risk', 9, {color:'#111'}));
g.push(T(218, 1164.5, 'Time(years)', 8.5, {align:'center', color:'#222'}));
// E texts
g.push(T(626, 7.5, eTitle, 10.5, {bold:true, align:'center', color:'#111'}));
function legendItem(x, y, color, label, tx) { g.push(R(x - 2.2, y - 2.2, 4.4, 4.4, color)); g.push(T(tx, y, label, 10, {color:'#222'})); }
const mc = code => mutColors[mutCodes.indexOf(code)];
legendItem(415, 535.7, mc('M'), 'Missense_Mutation', 423);
legendItem(415, 548.3, mc('D'), 'Frame_Shift_Del', 423);
legendItem(415, 560.7, mc('I'), 'Frame_Shift_Ins', 423);
legendItem(524.3, 535.7, mc('N'), 'Nonsense_Mutation', 534);
legendItem(524.3, 548.3, mc('d'), 'In_Frame_Del', 534);
legendItem(524.3, 560.7, mc('H'), 'Multi_Hit', 534);
g.push(T(647.7, 535.7, 'N-Score', 10, {color:'#222'}));
g.push(T(691.7, 535.7, 'Fustat', 10, {color:'#222'}));
g.push(T(739, 535.7, 'N-Cluster', 10, {color:'#222'}));
legendItem(656, 552.3, annColors[0], 'High', 665.7);
legendItem(656, 565, annColors[1], 'Low', 665.7);
legendItem(700, 552.3, annColors[2], 'Alive', 709.3);
legendItem(700, 565, annColors[3], 'Dead', 709.3);
legendItem(762.3, 552.3, annColors[4], 'A', 771.7);
legendItem(762.3, 565, annColors[5], 'B', 771.7);
// F texts
g.push(T(630.5, 610, fTitle, 10.5, {bold:true, align:'center', color:'#111'}));
legendItem(415, 1117.7, mc('I'), 'Frame_Shift_Ins', 423);
legendItem(415, 1130, mc('M'), 'Missense_Mutation', 423);
legendItem(415, 1142.3, mc('N'), 'Nonsense_Mutation', 423);
legendItem(415, 1154.3, mc('D'), 'Frame_Shift_Del', 423);
legendItem(415, 1166.7, mc('d'), 'In_Frame_Del', 423);
legendItem(535.7, 1117.7, mc('T'), 'Translation_Start_Site', 546);
legendItem(535.7, 1130, mc('S'), 'Nonstop_Mutation', 546);
legendItem(535.7, 1142.3, mc('i'), 'In_Frame_Ins', 546);
legendItem(535.7, 1154.3, mc('H'), 'Multi_Hit', 546);
g.push(T(671.7, 1117.7, 'N-Score', 10, {color:'#222'}));
g.push(T(716.7, 1117.7, 'Fustat', 10, {color:'#222'}));
g.push(T(764.3, 1117.7, 'N-Cluster', 10, {color:'#222'}));
legendItem(681, 1134.3, annColors[0], 'High', 690);
legendItem(681, 1146.7, annColors[1], 'Low', 690);
legendItem(725, 1134.3, annColors[2], 'Alive', 735);
legendItem(725, 1146.7, annColors[3], 'Dead', 735);
legendItem(789.3, 1134.3, annColors[4], 'A', 799);
legendItem(789.3, 1146.7, annColors[5], 'B', 799);

const option = {
  animation:false,
  backgroundColor:'#ffffff',
  textStyle:{fontFamily:FONT},
  grid:grids,
  xAxis:xAxes,
  yAxis:yAxes,
  series:series,
  graphic:{elements:g}
};
const chart = echarts.init(document.getElementById('chart'), null, {renderer:'canvas'});
chart.setOption(option);
</script></body></html>
